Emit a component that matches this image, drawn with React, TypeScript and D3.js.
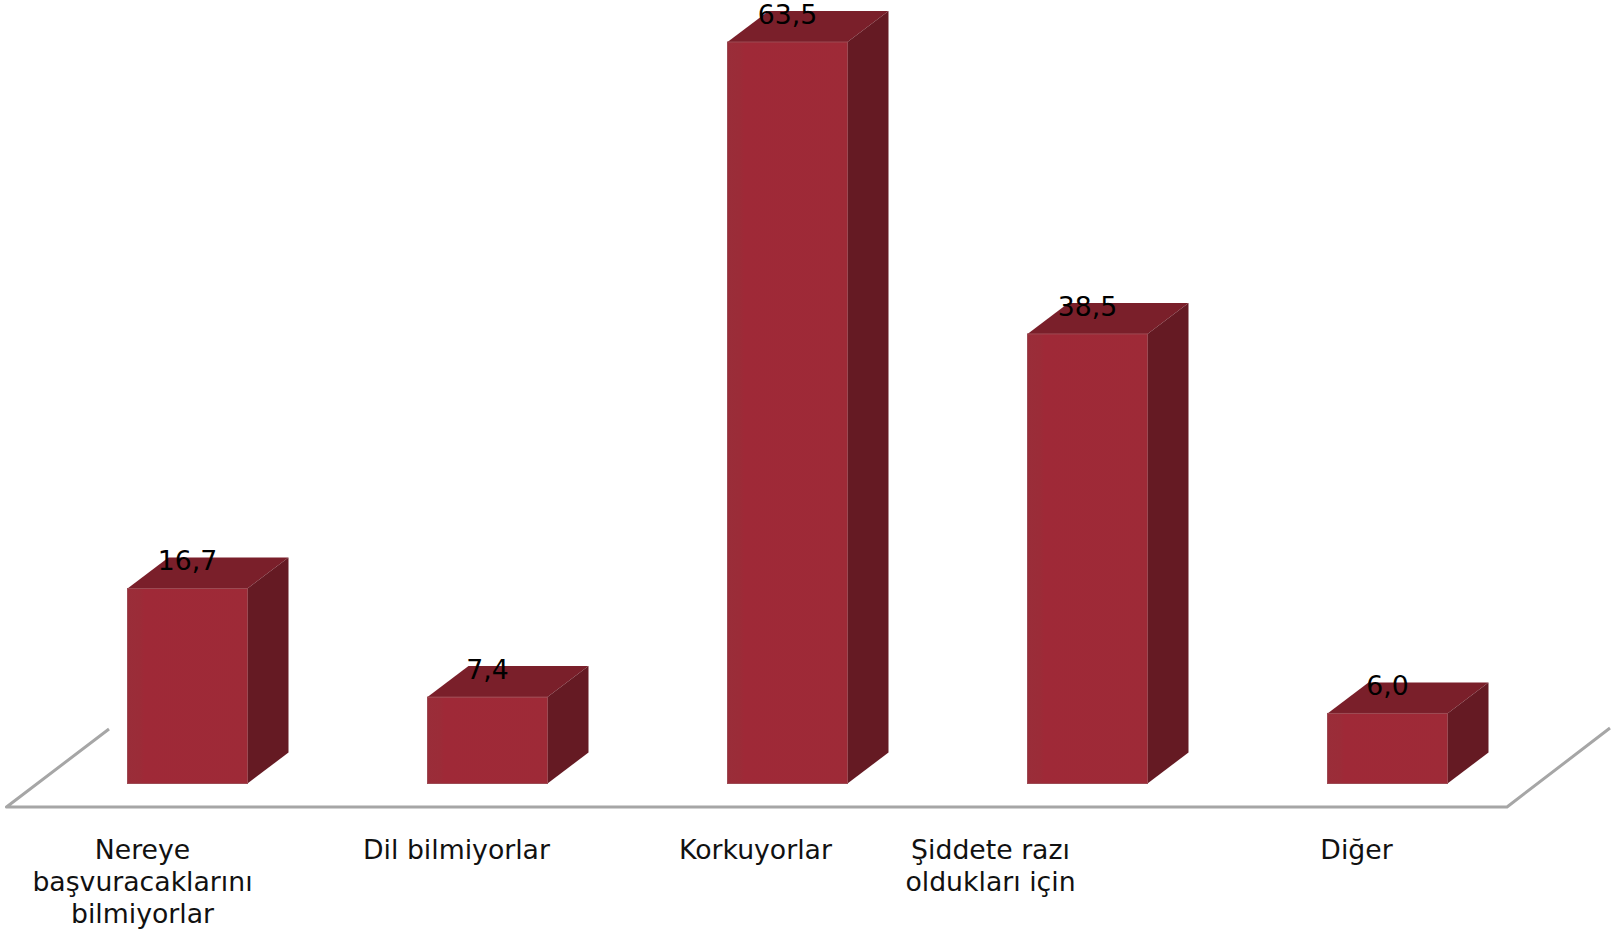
import { useEffect, useRef } from "react";
import * as d3 from "d3";

const categories = ["Nereye başvuracaklarını bilmiyorlar", "Dil bilmiyorlar", "Korkuyorlar", "Şiddete razı oldukları için", "Diğer"];
const values = [16.7, 7.4, 63.5, 38.5, 6.0];
const valueLabels = ["16,7", "7,4", "63,5", "38,5", "6,0"];
const labelLines = [
  ["Nereye", "başvuracaklarını", "bilmiyorlar"],
  ["Dil bilmiyorlar"],
  ["Korkuyorlar"],
  ["Şiddete razı", "oldukları için"],
  ["Diğer"]
];
// label centres are off the bar centres in the original
const labelShift = [-45, -31, -32, -97, -31];

const width = 1612;
const height = 931;
const baseY = 783.5;
const floorY = 807;
const depthX = 41;
const depthY = 31;
const font = "'DejaVu Sans', Verdana, sans-serif";

export default function App() {
  const ref = useRef<SVGSVGElement | null>(null);

  useEffect(() => {
    const svg = d3.select(ref.current);
    svg.selectAll("*").remove();

    const x = d3
      .scaleBand<string>()
      .domain(categories)
      .range([37.5, 1537.5])
      .paddingInner(0.6)
      .paddingOuter(0.3);
    const y = d3.scaleLinear().domain([0, 63.5]).range([baseY, 42]);
    const line = d3.line();

    // soft strip down the left of each front face
    const grad = svg
      .append("defs")
      .append("linearGradient")
      .attr("id", "front")
      .attr("x1", 0)
      .attr("x2", 1)
      .attr("y1", 0)
      .attr("y2", 0);
    grad.append("stop").attr("offset", "0").attr("stop-color", "#9a2d39");
    grad.append("stop").attr("offset", "0.1").attr("stop-color", "#9b2c38");
    grad.append("stop").attr("offset", "0.14").attr("stop-color", "#9f2937");
    grad.append("stop").attr("offset", "1").attr("stop-color", "#9e2a37");

    // floor
    svg
      .append("path")
      .attr("d", line([[109, 729], [6.5, floorY], [1507, floorY], [1610, 728]]))
      .attr("fill", "none")
      .attr("stroke", "#a6a6a6")
      .attr("stroke-width", 3)
      .attr("stroke-linejoin", "round");

    const bars = svg
      .selectAll("g.bar")
      .data(categories)
      .enter()
      .append("g")
      .attr("class", "bar");

    const bw = x.bandwidth();

    // top
    bars
      .append("path")
      .attr("fill", "#7a1f2a")
      .attr("d", (d, i) => {
        const l = x(d) as number;
        const t = y(values[i]);
        return line([[l, t], [l + depthX, t - depthY], [l + bw + depthX, t - depthY], [l + bw, t]]);
      });
    // side
    bars
      .append("path")
      .attr("fill", "#651a23")
      .attr("d", (d, i) => {
        const l = (x(d) as number) + bw;
        const t = y(values[i]);
        return line([[l, t], [l + depthX, t - depthY], [l + depthX, baseY - depthY], [l, baseY]]);
      });
    // front
    bars
      .append("rect")
      .attr("x", d => x(d) as number)
      .attr("y", (d, i) => y(values[i]))
      .attr("width", bw)
      .attr("height", (d, i) => baseY - y(values[i]))
      .attr("fill", "url(#front)")
      .attr("stroke", "#9c4a53")
      .attr("stroke-width", 1);

    // value labels
    bars
      .append("text")
      .attr("x", d => (x(d) as number) + bw / 2)
      .attr("y", (d, i) => y(values[i]) - 18)
      .attr("text-anchor", "middle")
      .attr("font-family", font)
      .attr("font-size", 26.7)
      .attr("fill", "#000")
      .text((d, i) => valueLabels[i]);

    // category labels
    const labels = svg
      .selectAll("text.cat")
      .data(categories)
      .enter()
      .append("text")
      .attr("class", "cat")
      .attr("text-anchor", "middle")
      .attr("font-family", font)
      .attr("font-size", 26.7)
      .attr("fill", "#111");
    labels
      .selectAll("tspan")
      .data((d, i) => labelLines[i].map(s => ({ s, cx: (x(d) as number) + bw / 2 + labelShift[i] })))
      .enter()
      .append("tspan")
      .attr("x", d => d.cx)
      .attr("y", (d, j) => 859 + j * 32)
      .text(d => d.s);
  }, []);

  return (
    <svg
      ref={ref}
      width={width}
      height={height}
      style={{ position: "absolute", left: 0, top: 0, display: "block", background: "#fff" }}
    />
  );
}
